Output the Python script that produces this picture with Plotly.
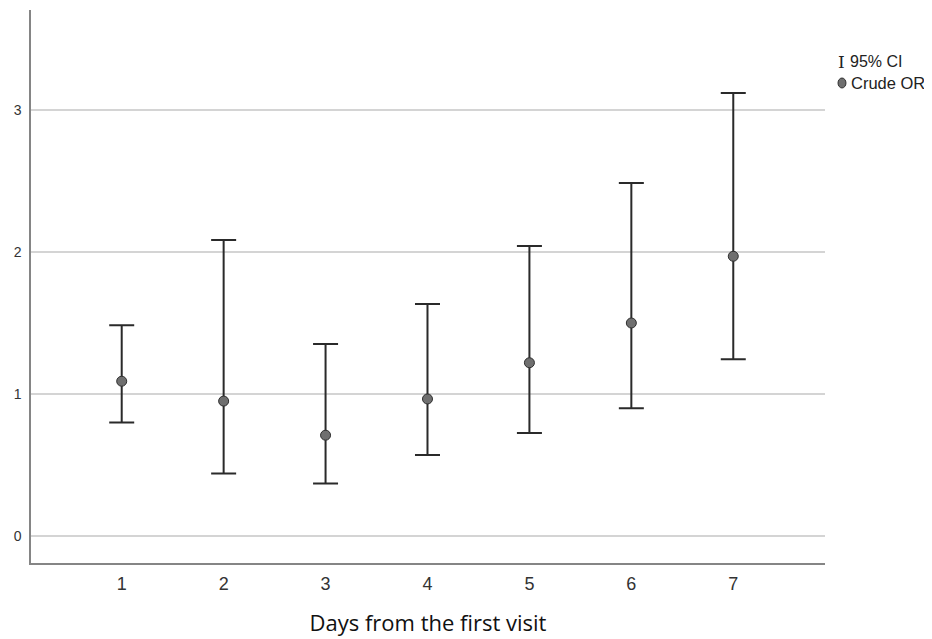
import plotly.graph_objects as go

days = [1, 2, 3, 4, 5, 6, 7]
crude_or = [1.09, 0.95, 0.71, 0.965, 1.22, 1.50, 1.97]
ci_lower = [0.80, 0.44, 0.37, 0.57, 0.725, 0.90, 1.245]
ci_upper = [1.485, 2.085, 1.352, 1.634, 2.042, 2.486, 3.12]
x_ticks = [1, 2, 3, 4, 5, 6, 7]
y_ticks = [0, 1, 2, 3]

err_plus = [u - m for u, m in zip(ci_upper, crude_or)]
err_minus = [m - l for m, l in zip(crude_or, ci_lower)]

fig = go.Figure()
fig.add_trace(go.Scatter(
    x=days, y=crude_or, mode="markers", name="Crude OR", showlegend=False,
    marker=dict(size=10, color="#6f6f6f", line=dict(color="#2e2e2e", width=1)),
    error_y=dict(type="data", symmetric=False, array=err_plus, arrayminus=err_minus,
                 color="#2a2a2a", thickness=2, width=12.5),
))

# legend (custom)
fig.add_annotation(xref="paper", yref="paper", x=1.0214, y=0.906, xanchor="center", yanchor="middle",
                   text="<span style='font-family:DejaVu Serif'>I</span>", showarrow=False,
                   font=dict(size=17, color="#222"))
fig.add_annotation(xref="paper", yref="paper", x=1.029, y=0.906, xanchor="left", yanchor="middle",
                   text="95% CI", showarrow=False, font=dict(size=16, color="#222", family="Liberation Sans"))
fig.add_shape(type="circle", xref="paper", yref="paper",
              x0=1.0164, x1=1.0264, y0=0.859, y1=0.877,
              fillcolor="#6f6f6f", line=dict(color="#2e2e2e", width=1))
fig.add_annotation(xref="paper", yref="paper", x=1.0305, y=0.868, xanchor="left", yanchor="middle",
                   text="Crude OR", showarrow=False, font=dict(size=16.5, color="#222", family="Liberation Sans"))

fig.update_layout(
    width=932, height=639,
    margin=dict(l=23, r=115, t=2, b=84, autoexpand=False),
    plot_bgcolor="white", paper_bgcolor="white",
    font=dict(family="Liberation Sans", color="#333"),
    xaxis=dict(range=[0.11, 7.9], tickvals=x_ticks, ticktext=[str(v) for v in x_ticks],
               showgrid=False, zeroline=False, showline=True, linecolor="#858585", linewidth=1.5,
               ticks="", tickfont=dict(size=18, color="#333"), ticklabelstandoff=4,
               title=dict(text="Days from the first visit", standoff=22,
                          font=dict(family="Open Sans", size=22, color="#111"))),
    yaxis=dict(range=[-0.19, 3.704], tickvals=y_ticks, ticktext=[str(v) for v in y_ticks],
               showgrid=True, gridcolor="#d4d4d4", gridwidth=1.5, zeroline=False,
               showline=True, linecolor="#858585", linewidth=1.5, ticks="",
               tickfont=dict(size=14, color="#333"), ticklabelstandoff=5),
)

fig.write_html("out.html")
